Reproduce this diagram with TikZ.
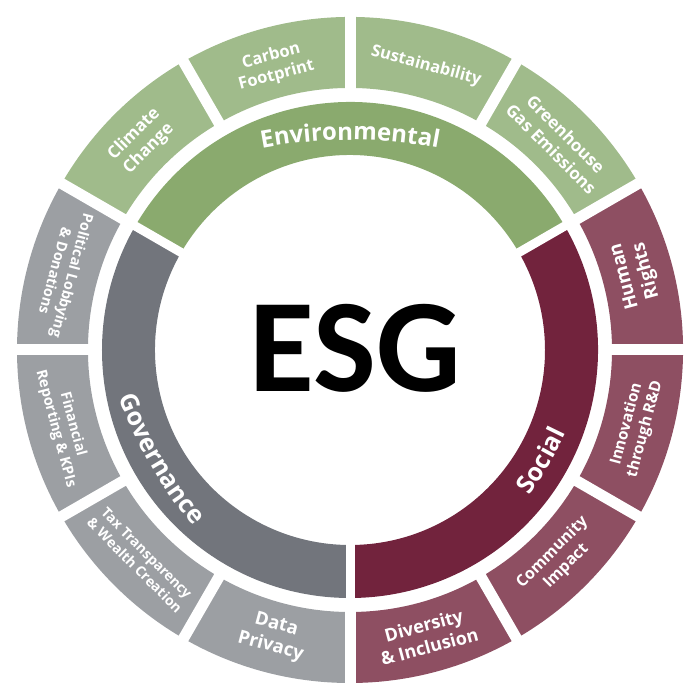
\documentclass[tikz,border=0pt]{standalone}
\usepackage{fontspec}
\usetikzlibrary{calc,decorations.text}
\IfFontExistsTF{Open Sans SemiBold}{\newfontfamily\labfam{Open Sans SemiBold}\newcommand\labfont{\labfam}}{\newfontfamily\labfam{Open Sans}\newcommand\labfont{\labfam\bfseries}}
\newfontfamily\esgfam{Carlito}
\definecolor{envO}{HTML}{A0BB8B}
\definecolor{envI}{HTML}{8AAA6E}
\definecolor{socO}{HTML}{8E4F62}
\definecolor{socI}{HTML}{72233D}
\definecolor{govO}{HTML}{9C9FA3}
\definecolor{govI}{HTML}{72757C}
\begin{document}
\begin{tikzpicture}[x=1pt,y=1pt,
  lbl/.style={text=white, align=center, inner sep=0pt},
  fs/.style={font=\labfont\fontsize{#1}{\dimexpr #1pt*122/100\relax}\selectfont},
  gapO/.style={white, line width=11pt},
  gapI/.style={white, line width=9pt}]
\useasboundingbox (-350,-350) rectangle (350,350);
% outer ring
\fill[envO] (30:262) arc[start angle=30,end angle=150,radius=262] -- (150:333) arc[start angle=150,end angle=30,radius=333] -- cycle;
\fill[socO] (-90:262) arc[start angle=-90,end angle=30,radius=262] -- (30:333) arc[start angle=30,end angle=-90,radius=333] -- cycle;
\fill[govO] (150:262) arc[start angle=150,end angle=270,radius=262] -- (270:333) arc[start angle=270,end angle=150,radius=333] -- cycle;
% inner ring
\fill[envI] (30:195) arc[start angle=30,end angle=150,radius=195] -- (150:248) arc[start angle=150,end angle=30,radius=248] -- cycle;
\fill[socI] (-90:195) arc[start angle=-90,end angle=30,radius=195] -- (30:248) arc[start angle=30,end angle=-90,radius=248] -- cycle;
\fill[govI] (150:195) arc[start angle=150,end angle=270,radius=195] -- (270:248) arc[start angle=270,end angle=150,radius=248] -- cycle;
% gaps
\foreach \a in {0,30,...,330} \draw[gapO] (\a:255) -- (\a:340);
\foreach \a in {30,150,270} \draw[gapI] (\a:188) -- (\a:255);
% centre
\node (esg) at (5,2) {\esgfam\bfseries\fontsize{133}{133}\selectfont ESG};
% inner labels
\path[decorate, decoration={text along path, text color=white, text align=center,
  text={|\labfont\fontsize{24}{24}\selectfont|Environmental}}]
  ($(0,-262)+(110:472)$) arc[start angle=110,end angle=70,radius=472];
\path[decorate, decoration={text along path, text color=white, text align=center,
  text={|\labfont\fontsize{25}{25}\selectfont|Social}}]
  ($(150:242)+(-50:472)$) arc[start angle=-50,end angle=-10,radius=472];
\path[decorate, decoration={text along path, text color=white, text align=center,
  text={|\labfont\fontsize{25}{25}\selectfont|Governance}}]
  ($(30:242)+(190:472)$) arc[start angle=190,end angle=230,radius=472];
% outer labels
\node[lbl, fs=17, rotate=45]  (cc)  at (135:295) {Climate\\Change};
\node[lbl, fs=16.5, rotate=15]  (cf)  at (105:294) {Carbon\\Footprint};
\node[lbl, fs=16.5, rotate=-15] (su)  at (75:294)  {Sustainability};
\node[lbl, fs=17, rotate=-45] (gh)  at (45:295)  {Greenhouse\\Gas Emissions};
\node[lbl, fs=18.5, rotate=105] (hr)  at (15:296)  {Human\\Rights};
\node[lbl, fs=15.5, rotate=75]  (inn) at (-15:296) {Innovation\\through R\&D};
\node[lbl, fs=16, rotate=45]  (ci)  at (-45:296) {Community\\Impact};
\node[lbl, fs=18, rotate=15]  (di)  at (-75:296) {Diversity\\\& Inclusion};
\node[lbl, fs=18.5, rotate=-15] (dp)  at (255:296) {Data\\Privacy};
\node[lbl, fs=14, rotate=-45] (tt)  at (225:296) {Tax Transparency\\\& Wealth Creation};
\node[lbl, fs=14.5, rotate=-75] (fr)  at (195:296) {Financial\\Reporting \& KPIs};
\node[lbl, fs=14.5, rotate=-105] (pl) at (165:296) {Political Lobbying\\\& Donations};
\end{tikzpicture}
\end{document}
